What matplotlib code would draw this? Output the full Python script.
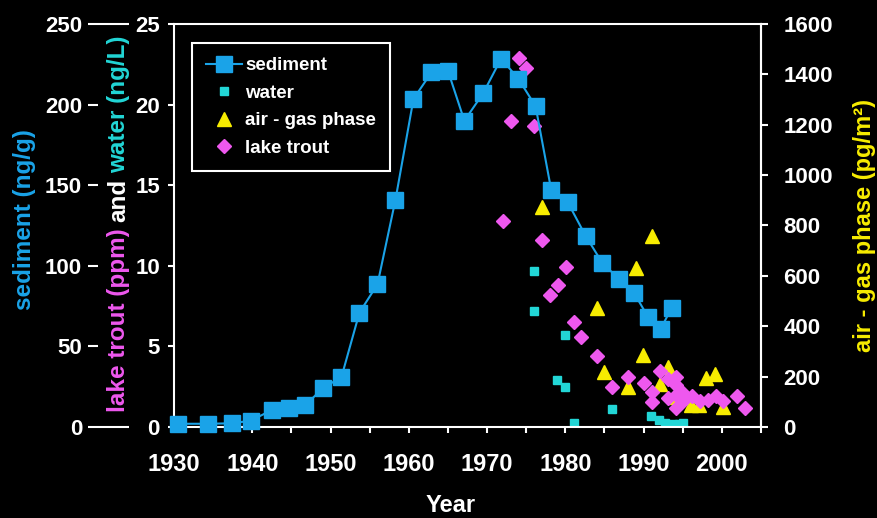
import numpy as np
import matplotlib
matplotlib.use('Agg')
import matplotlib.pyplot as plt
from matplotlib.ticker import FixedLocator, FixedFormatter, MultipleLocator

plt.rcParams['font.family'] = 'Liberation Sans'
plt.rcParams['font.weight'] = 'bold'

# sediment core (ng/g)
sed_year = [1930.5, 1934.4, 1937.4, 1939.8, 1942.5, 1944.7, 1946.8, 1949.0, 1951.4, 1953.7,
            1956.0, 1958.3, 1960.6, 1962.9, 1965.0, 1967.1, 1969.5, 1971.8, 1974.0, 1976.2,
            1978.2, 1980.3, 1982.6, 1984.7, 1986.9, 1988.8, 1990.6, 1992.2, 1993.6]
sediment = [2, 2, 2.3, 3.9, 10.5, 11.6, 13.6, 24, 31, 71,
            88.5, 141, 203.5, 220, 221, 190, 207, 228.5, 216, 199,
            147, 139.5, 118.5, 102, 91.5, 83, 68, 61, 74]

# water (ng/L)
water_year = [1976.0, 1976.0, 1979.0, 1980.0, 1980.0, 1981.1, 1986.0, 1991.0, 1992.0,
              1992.8, 1993.7, 1994.5, 1995.0]
water = [9.7, 7.2, 2.9, 5.7, 2.5, 0.27, 1.1, 0.68, 0.42, 0.23, 0.2, 0.2, 0.25]

# air - gas phase (pg/m2)
air_year = [1977.0, 1984.0, 1985.0, 1988.0, 1989.0, 1989.9, 1991.1, 1992.1, 1993.1,
            1994.2, 1996.0, 1997.1, 1998.0, 1999.1, 2000.2]
air = [875, 471, 220, 160, 632, 286, 758, 171, 239, 120, 87, 87, 196, 210, 78]

# lake trout (ppm)
trout_year = [1972.0, 1973.1, 1974.1, 1975.0, 1976.0, 1977.0, 1978.0, 1979.1, 1980.1,
              1981.1, 1982.0, 1984.1, 1986.0, 1988.0, 1990.0, 1991.1, 1991.1, 1992.1,
              1993.1, 1993.1, 1994.2, 1994.2, 1994.2, 1994.2, 1995.1, 1995.1, 1996.2,
              1997.2, 1998.2, 1999.2, 2000.2, 2002.0, 2003.0]
trout = [12.8, 19.0, 22.9, 22.3, 18.7, 11.6, 8.2, 8.8, 9.9,
         6.5, 5.6, 4.4, 2.5, 3.1, 2.7, 2.15, 1.55, 3.5,
         3.0, 1.8, 3.1, 2.6, 2.0, 1.2, 2.1, 1.6, 1.9,
         1.6, 1.7, 1.9, 1.6, 1.9, 1.2]

SED = '#1AA3E8'
WATER = '#22D6D6'
MAG = '#EE58EE'
YEL = '#F7EC00'

fig = plt.figure(figsize=(8.77, 5.18), dpi=100, facecolor='black')
ax = fig.add_axes([0.1984, 0.1757, 0.6693, 0.778])
ax_air = ax.twinx()
ax_sed = ax.twinx()

ax_air.set_zorder(1)
ax.set_zorder(2)
ax_sed.set_zorder(3)
ax.patch.set_visible(False)
ax_air.patch.set_visible(True)
ax_air.patch.set_facecolor('black')

# main axis: lake trout and water
ax.set_xlim(1930, 2005)
ax.set_ylim(0, 25)
ax.xaxis.set_major_locator(FixedLocator(range(1930, 2001, 10)))
ax.xaxis.set_minor_locator(MultipleLocator(5))
ax.set_yticks(range(0, 26, 5))
for s in ax.spines.values():
    s.set_color('white')
    s.set_linewidth(1.5)
ax.tick_params(axis='x', which='both', length=4.5, width=1.5, color='white',
               labelcolor='white', labelsize=17, pad=14)
ax.tick_params(axis='y', length=4.3, width=1.5, color='white',
               labelcolor='white', labelsize=16, pad=5.8)

# sediment axis, floating further left
ax_sed.set_ylim(0, 250)
for s in ax_sed.spines.values():
    s.set_visible(False)
ax_sed.yaxis.set_ticks_position('left')
ax_sed.spines['left'].set_position(('axes', -0.1465))
ax_sed.yaxis.set_major_locator(FixedLocator([50, 100, 150, 200]))
ax_sed.yaxis.set_minor_locator(FixedLocator([0, 250]))
ax_sed.yaxis.set_minor_formatter(FixedFormatter(['0', '250']))
ax_sed.tick_params(axis='y', which='major', direction='in', length=7.2, width=1.5,
                   color='white', labelcolor='white', labelsize=16, pad=4.3)
ax_sed.tick_params(axis='y', which='minor', direction='in', length=29.5, width=1.5,
                   color='white', labelcolor='white', labelsize=16, pad=4.3)

# air axis on the right
ax_air.set_ylim(0, 1600)
ax_air.set_yticks(range(0, 1601, 200))
for k, s in ax_air.spines.items():
    s.set_visible(k == 'right')
ax_air.spines['right'].set_color('white')
ax_air.spines['right'].set_linewidth(1.5)
ax_air.tick_params(axis='y', length=5, width=1.5, color='white',
                   labelcolor='white', labelsize=16, pad=11)

h_air, = ax_air.plot(air_year, air, '^', color=YEL, ms=10, label='air - gas phase')
h_water, = ax.plot(water_year, water, 's', color=WATER, ms=6, label='water')
h_trout, = ax.plot(trout_year, trout, 'D', color=MAG, ms=7, label='lake trout')
h_sed, = ax_sed.plot(sed_year, sediment, '-s', color=SED, ms=12, lw=1.5,
                     label='sediment', clip_on=False)

leg = ax_sed.legend(handles=[h_sed, h_water, h_air, h_trout], loc='upper left',
                    bbox_to_anchor=(0.0307, 0.953), borderaxespad=0, fontsize=13.5,
                    frameon=True, fancybox=False, facecolor='black', edgecolor='white',
                    framealpha=1, labelcolor='white', handlelength=1.9,
                    handletextpad=0.2, labelspacing=0.56, borderpad=0.75)
leg.get_frame().set_linewidth(1.5)

# axis titles
fig.text(451 / 877, (518 - 506) / 518, 'Year', color='white', fontsize=17,
         ha='center', va='center')
fig.text(25 / 877, (518 - 220) / 518, 'sediment (ng/g)', color=SED, fontsize=17.5,
         rotation=90, ha='center', va='center')
fig.text(865 / 877, (518 - 225) / 518, 'air - gas phase (pg/m\u00b2)', color=YEL,
         fontsize=17, rotation=90, ha='center', va='center')

renderer = fig.canvas.get_renderer()
ypix = 518 - 412
for txt, col in [('lake trout (ppm)', MAG), ('and', 'white'), ('water (ng/L)', WATER)]:
    t = fig.text(119 / 877, ypix / 518, txt, color=col, fontsize=17.5, rotation=90,
                 ha='center', va='bottom')
    ypix = t.get_window_extent(renderer).y1 + 6

fig.savefig('out.png', dpi=100, facecolor='black')
